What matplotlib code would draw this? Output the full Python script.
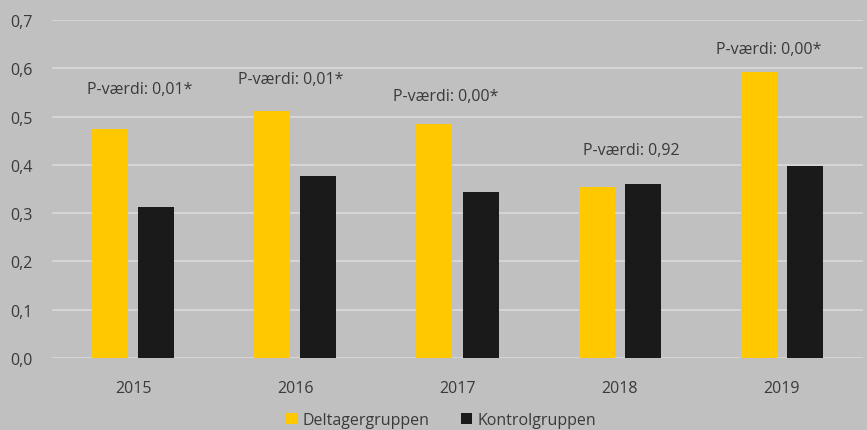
import matplotlib
matplotlib.use("Agg")
import matplotlib.pyplot as plt
import numpy as np

years = ["2015", "2016", "2017", "2018", "2019"]
deltager = [0.474, 0.511, 0.484, 0.354, 0.592]
kontrol = [0.313, 0.377, 0.344, 0.360, 0.398]
pvalue_labels = ["P-værdi: 0,01*", "P-værdi: 0,01*", "P-værdi: 0,00*", "P-værdi: 0,92", "P-værdi: 0,00*"]
pvalue_y = [0.557, 0.578, 0.543, 0.430, 0.640]
pvalue_dx = [0.04, -0.03, -0.07, 0.07, -0.08]
yticks = [0.0, 0.1, 0.2, 0.3, 0.4, 0.5, 0.6, 0.7]
ytick_labels = ["0,0", "0,1", "0,2", "0,3", "0,4", "0,5", "0,6", "0,7"]

bg = "#C0C0C0"
txt = "#3A3A3A"
plt.rcParams['font.family'] = ['Open Sans', 'DejaVu Sans']
fs = 11.5

fig = plt.figure(figsize=(8.67, 4.31), dpi=100, facecolor=bg)
ax = fig.add_axes([52/867, 1 - 359/431, (863-52)/867, (359-21)/431])
ax.set_facecolor(bg)

x = np.arange(len(years))
w = 0.222
ax.bar(x - 0.142, deltager, w, color="#FFC800", label="Deltagergruppen", zorder=3)
ax.bar(x + 0.142, kontrol, w, color="#1A1A1A", label="Kontrolgruppen", zorder=3)

for i, (lab, yy, dx) in enumerate(zip(pvalue_labels, pvalue_y, pvalue_dx)):
    ax.text(i + dx, yy, lab, ha="center", va="center", fontsize=fs, color=txt)

ax.set_xlim(-0.5, len(years) - 0.5)
ax.set_ylim(0, 0.7)
ax.set_yticks(yticks)
ax.set_yticklabels(ytick_labels)
ax.set_xticks(x)
ax.set_xticklabels(years)
ax.tick_params(axis="both", length=0, colors=txt, labelsize=fs)
ax.tick_params(axis="y", pad=14)
ax.tick_params(axis="x", pad=16)
ax.yaxis.grid(True, color="#DADADA", linewidth=1.2, zorder=0)
for s in ax.spines.values():
    s.set_visible(False)

leg = fig.legend(loc="center", bbox_to_anchor=(441/867, 1 - 421/431), ncol=2,
                 frameon=False, fontsize=fs, handlelength=0.7, handleheight=0.7,
                 handletextpad=0.35, columnspacing=2.0, labelcolor=txt)

fig.savefig("out.png", dpi=100, facecolor=bg)
